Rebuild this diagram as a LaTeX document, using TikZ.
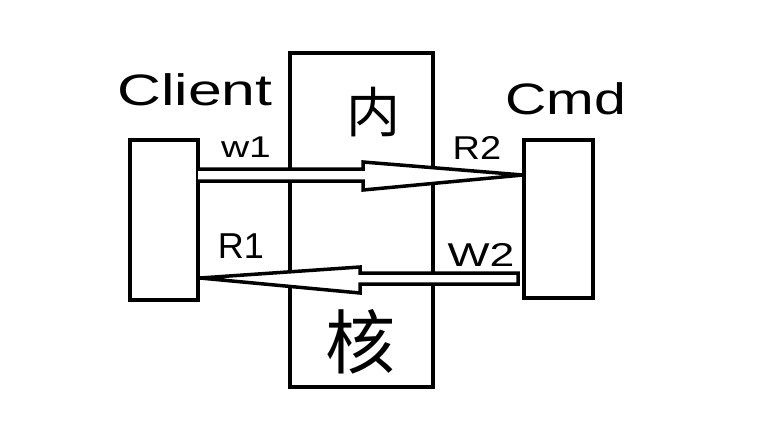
\documentclass[tikz,border=0pt]{standalone}
\usepackage{fontspec}
\setmainfont{Liberation Sans}
\newfontfamily\cjk{Noto Sans CJK SC}
\begin{document}
\begin{tikzpicture}[x=1pt,y=-1pt,
  box/.style={draw=black,line width=3.5pt,fill=white,inner sep=0pt,anchor=center},
  lbl/.style={inner sep=0pt,anchor=center,text=black},
  pipe/.style={draw=black,line width=3.5pt,line join=miter,fill=white}]
\useasboundingbox[fill=white] (0,0) rectangle (769,437);
\node[box,minimum width=143pt,minimum height=334pt] (kernel) at (361.5,220) {};
\node[box,minimum width=68pt,minimum height=160pt] (client) at (164,220) {};
\node[box,minimum width=69pt,minimum height=158pt] (cmd) at (558.5,219) {};
% arrows (outlined)
\coordinate (t1) at (523,175);
\coordinate (t2) at (200,278);
\draw[pipe] (198,169) -- (363,169) -- (363,162) -- (t1) -- (363,190) -- (363,181) -- (198,181);
\draw[pipe] (t2) -- (360,267) -- (360,273) -- (518,273) -- (518,284) -- (360,284) -- (360,293) -- cycle;
% labels
\node[lbl] (clientlbl) at (195,90) {\scalebox{1.38}[1]{\fontsize{44}{44}\selectfont Client}};
\node[lbl] (cmdlbl) at (566,99) {\scalebox{1.3}[1]{\fontsize{44}{44}\selectfont Cmd}};
\node[lbl] (nei) at (373,112) {\fontsize{54}{54}\selectfont\cjk 内};
\node[lbl] (he) at (360,342) {\fontsize{70}{70}\selectfont\cjk 核};
\node[lbl] (w1) at (246,147) {\scalebox{1.3}[1]{\fontsize{30}{30}\selectfont w1}};
\node[lbl] (r2) at (477,148) {\scalebox{1.15}[1]{\fontsize{33}{33}\selectfont R2}};
\node[lbl] (r1) at (241,246) {\fontsize{36}{36}\selectfont R1};
\node[lbl] (w2) at (481,255) {\scalebox{1.35}[1]{\fontsize{33}{33}\selectfont W2}};
\end{tikzpicture}
\end{document}
